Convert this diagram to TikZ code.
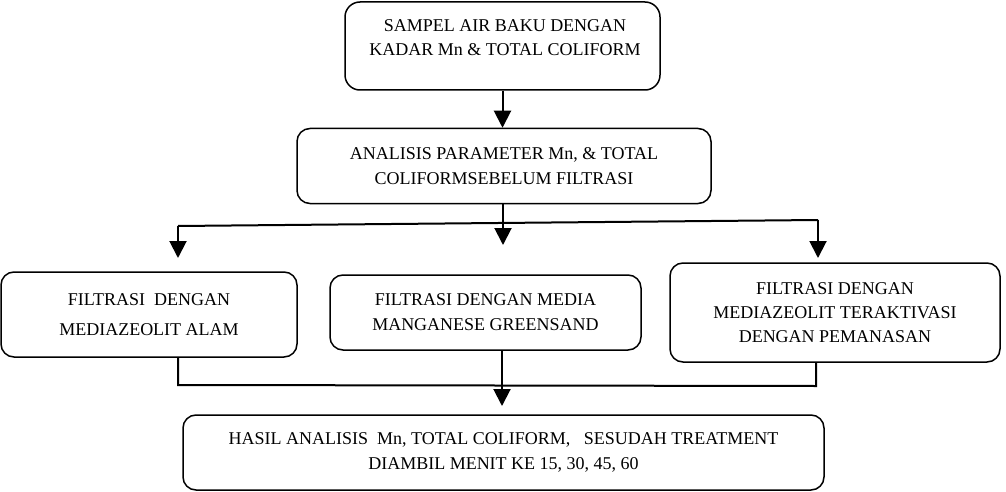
\documentclass[tikz,border=0pt]{standalone}
\usepackage{fontspec}
\setmainfont{Liberation Serif}
\usetikzlibrary{arrows.meta}
\begin{document}
\begin{tikzpicture}[x=1pt,y=-1pt,
  box/.style={draw, line width=1.5pt, rounded corners=13pt, inner sep=0pt, align=center, font=\fontsize{18}{25}\selectfont},
  txt/.style={align=center, inner sep=0pt, font=\fontsize{18}{24}\selectfont},
  conn/.style={line width=2pt},
  arr/.style={line width=2pt, -{Triangle[length=17pt,width=17pt]}}]
\useasboundingbox (0,0) rectangle (1006,492);
% boxes
\node[box, rounded corners=15pt, minimum width=315pt, minimum height=88pt] (b1) at (502.5,46) {};
\node[txt] (b1t) at (505,38) {SAMPEL AIR BAKU DENGAN\\KADAR Mn \& TOTAL COLIFORM};
\node[box, minimum width=414pt, minimum height=75pt] (b2) at (504,166) {ANALISIS PARAMETER Mn, \& TOTAL\\COLIFORMSEBELUM FILTRASI};
\node[box, minimum width=296pt, minimum height=85pt, font=\fontsize{18}{30}\selectfont] (b3) at (149,314.5) {FILTRASI~~DENGAN\\MEDIAZEOLIT ALAM};
\node[box, minimum width=311pt, minimum height=75pt] (b4) at (485.5,312.5) {FILTRASI DENGAN MEDIA\\MANGANESE GREENSAND};
\node[box, minimum width=330pt, minimum height=99pt, font=\fontsize{18}{24}\selectfont] (b5) at (835,312.5) {FILTRASI DENGAN\\MEDIAZEOLIT TERAKTIVASI\\DENGAN PEMANASAN};
\node[box, minimum width=641pt, minimum height=75pt] (b6) at (503.5,452.5) {HASIL ANALISIS~~Mn, TOTAL COLIFORM,~~~SESUDAH TREATMENT\\DIAMBIL MENIT KE 15, 30, 45, 60};
% connector coordinates
\coordinate (jl) at (178,226);
\coordinate (jm) at (503,223);
\coordinate (jr) at (818,220);
\coordinate (tl) at (178,258);
\coordinate (tm) at (503,245);
\coordinate (tr) at (818,258);
\coordinate (bl) at (178,385);
\coordinate (br) at (816,386);
\coordinate (t6) at (502,406);
% connectors
\draw[arr] (b1.south) -- (b1.south |- b2.north);
\draw[conn] (jm |- b2.south) -- (jm);
\draw[conn] (jl) -- (jr);
\draw[arr] (jl) -- (tl);
\draw[arr] (jm) -- (tm);
\draw[arr] (jr) -- (tr);
\draw[conn] (bl |- b3.south) -- (bl) -- (br) -- (br |- b5.south);
\draw[arr] (t6 |- b4.south) -- (t6);
\end{tikzpicture}
\end{document}
